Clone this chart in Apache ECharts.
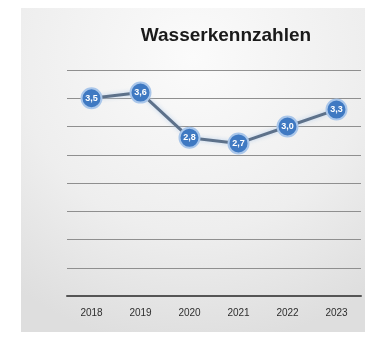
<!DOCTYPE html>
<html>
<head>
<meta charset="utf-8">
<script src="https://cdn.jsdelivr.net/npm/echarts@6/dist/echarts.min.js"></script>
<style>
  html, body { margin: 0; padding: 0; background: #ffffff; }
  #chart { width: 365px; height: 342px; }
</style>
</head>
<body>
<div id="chart"></div>
<script>
// Wasserkennzahlen per year
var years = ['2018', '2019', '2020', '2021', '2022', '2023'];
var kennzahl = [3.5, 3.6, 2.8, 2.7, 3.0, 3.3];

var myChart = echarts.init(document.getElementById('chart'));
var option = {
    backgroundColor: '#ffffff',
    graphic: [
        {
            type: 'rect',
            z: -10,
            shape: { x: 21, y: 8, width: 344, height: 324 },
            style: {
                fill: new echarts.graphic.RadialGradient(0.5, 0.15, 0.9, [
                    { offset: 0, color: '#fbfbfb' },
                    { offset: 0.6, color: '#eeeeee' },
                    { offset: 1, color: '#dedede' }
                ])
            }
        }
    ],
    title: {
        text: 'Wasserkennzahlen',
        left: 221,
        top: 21,
        textAlign: 'center',
        textStyle: {
            fontFamily: 'Liberation Sans',
            fontWeight: 'bold',
            fontSize: 19,
            color: '#1a1a1a'
        }
    },
    grid: {
        left: 67,
        right: 4,
        top: 70,
        bottom: 46
    },
    xAxis: {
        type: 'category',
        data: years,
        boundaryGap: true,
        axisLine: { lineStyle: { color: '#555555', width: 2 } },
        axisTick: { show: false },
        axisLabel: {
            color: '#2e2e2e',
            fontSize: 10,
            fontFamily: 'Liberation Sans',
            margin: 12
        }
    },
    yAxis: {
        type: 'value',
        min: 0,
        max: 4,
        interval: 0.5,
        axisLine: { show: false },
        axisTick: { show: false },
        axisLabel: { show: false },
        splitLine: { lineStyle: { color: '#8f8f8f', width: 1 } }
    },
    series: [
        {
            type: 'line',
            data: kennzahl,
            symbol: 'circle',
            symbolSize: 20,
            lineStyle: {
                color: '#5d718a',
                width: 3,
                shadowColor: 'rgba(180,205,235,0.9)',
                shadowBlur: 4
            },
            itemStyle: {
                color: '#3f79c2',
                borderColor: '#a9c6ea',
                borderWidth: 2
            },
            label: {
                show: true,
                position: 'inside',
                color: '#ffffff',
                fontSize: 9,
                fontWeight: 'bold',
                formatter: function (p) {
                    return p.value.toFixed(1).replace('.', ',');
                }
            }
        }
    ]
};
myChart.setOption(option);
</script>
</body>
</html>
